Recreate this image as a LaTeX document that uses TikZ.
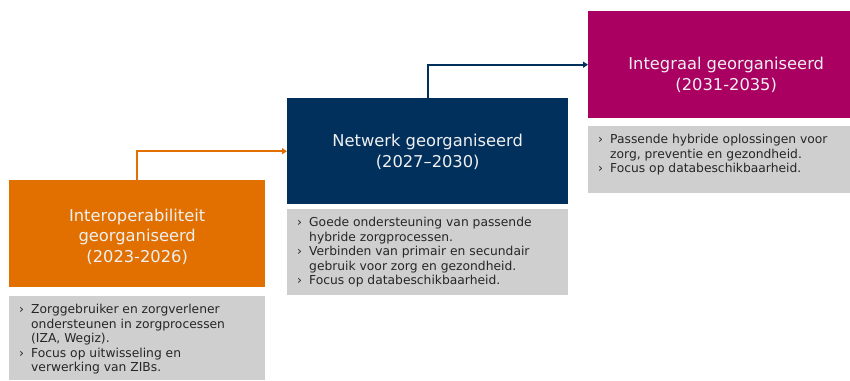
\documentclass[tikz,border=0pt]{standalone}
\usepackage{fontspec}
\setmainfont{DejaVu Sans}
\usetikzlibrary{arrows.meta}
\usetikzlibrary{positioning}

\definecolor{oranje}{HTML}{E17000}
\definecolor{donkerblauw}{HTML}{01305D}
\definecolor{paars}{HTML}{A90061}
\definecolor{lichtgrijs}{HTML}{CFCFCF}

\tikzset{
  fase/.style={rectangle, inner sep=0pt, anchor=north west},
  fasetekst/.style={inner sep=0pt, align=center, text=white!94!black,
    font=\fontsize{16.3}{20.5}\selectfont},
  opsomming/.style={rectangle, fill=lichtgrijs, inner sep=0pt, anchor=north west},
  punten/.style={inner sep=0pt, align=left, anchor=north west, text=black!85,
    font=\fontsize{12.3}{14.6}\selectfont},
  pijl/.style={line width=2pt, arrows={-Triangle[length=5pt, width=6pt]}},
}
\newcommand{\bul}{\makebox[12pt][l]{›}}
\newcommand{\ins}{\hspace*{12pt}}

\begin{document}
\begin{tikzpicture}[x=1pt, y=-1pt]
%                                         +-------------+
%                      +------------------> integraal   |
%                      |                  +-------------+
%                +-------------+          |   punten    |
%     +----------> netwerk     |          +-------------+
%     |          +-------------+
% +-----------+  |   punten    |
% |   inter   |  +-------------+
% +-----------+
% |  punten   |
% +-----------+
\useasboundingbox (0,0) rectangle (850,380);
\node[fase, fill=oranje, minimum width=256pt, minimum height=107pt] (inter) at (9,180) {};
\node[fase, fill=donkerblauw, minimum width=281pt, minimum height=106pt] (netwerk) at (287,98) {};
\node[fase, fill=paars, minimum width=276pt, minimum height=107pt] (integraal) at (588,11) {};
\node[fasetekst, above=23pt of inter.south] (intertitel) {Interoperabiliteit\\georganiseerd\\(2023-2026)};
\node[fasetekst, above=35pt of netwerk.south] (netwerktitel) {Netwerk georganiseerd\\(2027–2030)};
\node[fasetekst, above=26pt of integraal.south] (integraaltitel) {Integraal georganiseerd\\(2031-2035)};
\node[opsomming, minimum width=256pt, minimum height=84pt] (interpunten) at (9,296) {};
\node[opsomming, minimum width=281pt, minimum height=86pt] (netwerkpunten) at (287,209) {};
\node[opsomming, minimum width=276pt, minimum height=67pt] (integraalpunten) at (588,126) {};
\node[punten] (intertekst) at ([xshift=10pt, yshift=-8pt]interpunten.north west)
  {\bul Zorggebruiker en zorgverlener\\\ins ondersteunen in zorgprocessen\\\ins (IZA, Wegiz).\\\bul Focus op uitwisseling en\\\ins verwerking van ZIBs.};
\node[punten] (netwerktekst) at ([xshift=10pt, yshift=-8pt]netwerkpunten.north west)
  {\bul Goede ondersteuning van passende\\\ins hybride zorgprocessen.\\\bul Verbinden van primair en secundair\\\ins gebruik voor zorg en gezondheid.\\\bul Focus op databeschikbaarheid.};
\node[punten] (integraaltekst) at ([xshift=10pt, yshift=-8pt]integraalpunten.north west)
  {\bul Passende hybride oplossingen voor\\\ins zorg, preventie en gezondheid.\\\bul Focus op databeschikbaarheid.};
\draw[pijl, oranje] (inter.north) |- (netwerk.west);
\draw[pijl, donkerblauw] (netwerk.north) |- (integraal.west);
\end{tikzpicture}
\end{document}
